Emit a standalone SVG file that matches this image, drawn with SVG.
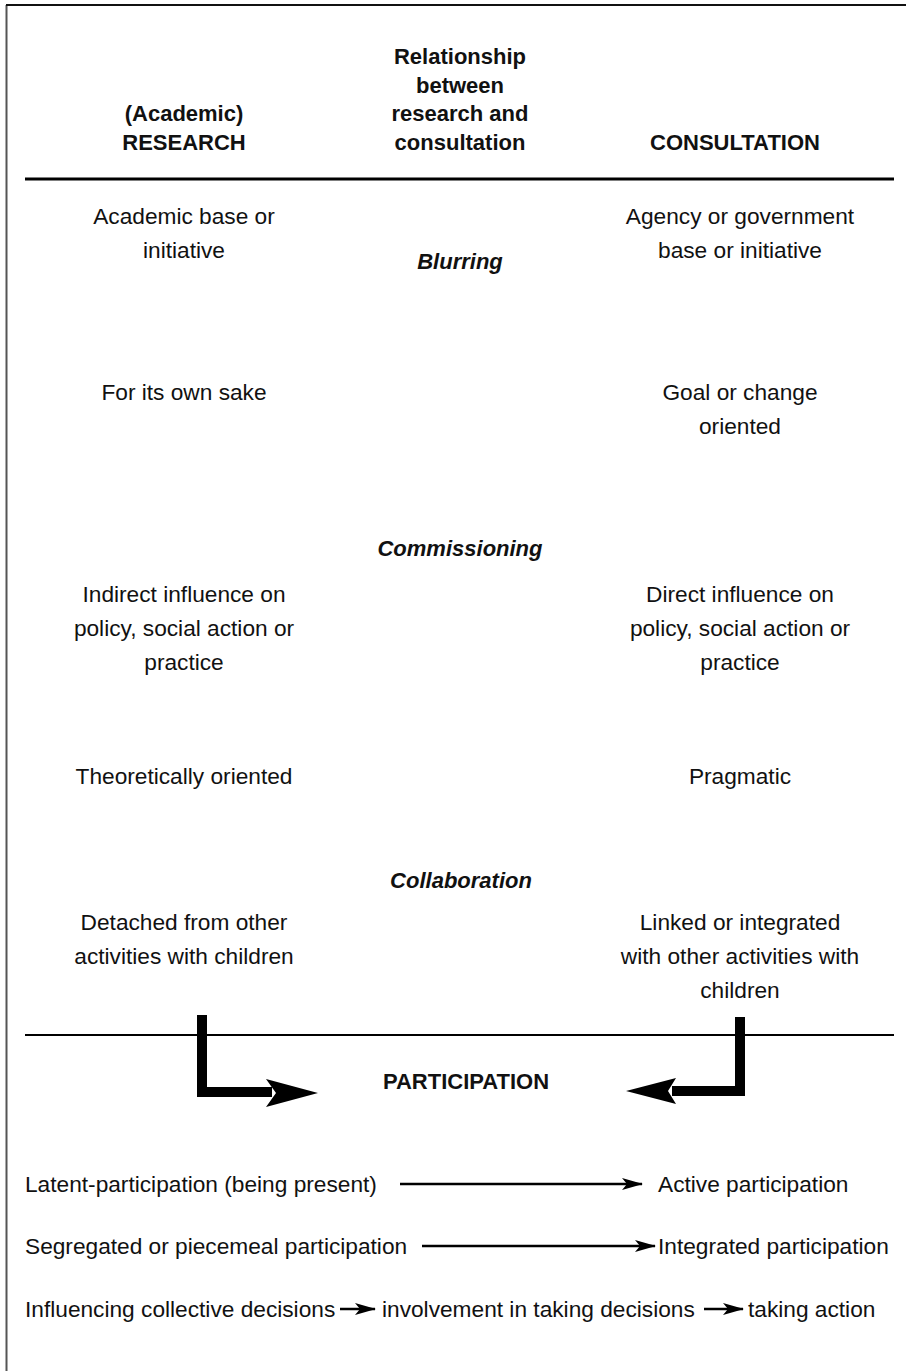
<svg xmlns="http://www.w3.org/2000/svg" width="906" height="1371" viewBox="0 0 906 1371">
<defs>
<style>
text{font-family:"Liberation Sans",Arial,sans-serif;font-size:22.7px;fill:#111;text-anchor:middle}
.b{font-weight:bold;font-size:22px}
.bi{font-weight:bold;font-style:italic;font-size:22px}
.l{text-anchor:start}
.ln{stroke:#000;fill:none}
</style>
<marker id="ah" markerWidth="22" markerHeight="14" refX="20" refY="7" orient="auto" markerUnits="userSpaceOnUse">
<path d="M0,1 L21,7 L0,13 L5,7 Z" fill="#000"/>
</marker>
</defs>
<rect width="906" height="1371" fill="#fff"/>
<g id="frame">
<line x1="6.5" y1="5" x2="6.5" y2="1371" stroke="#555" stroke-width="2"/>
<line x1="6" y1="5" x2="906" y2="5" stroke="#111" stroke-width="2"/>
<line x1="25" y1="179" x2="894" y2="179" stroke="#000" stroke-width="3"/>
<line x1="25" y1="1035" x2="894" y2="1035" stroke="#000" stroke-width="2"/>
</g>
<g id="header">
<text class="b" x="460" y="64">Relationship</text>
<text class="b" x="460" y="93">between</text>
<text class="b" x="460" y="121">research and</text>
<text class="b" x="460" y="150">consultation</text>
<text class="b" x="184" y="121">(Academic)</text>
<text class="b" x="184" y="150">RESEARCH</text>
<text class="b" x="735" y="150">CONSULTATION</text>
</g>
<g id="research">
<text x="184" y="224">Academic base or</text>
<text x="184" y="258">initiative</text>
<text x="184" y="400">For its own sake</text>
<text x="184" y="602">Indirect influence on</text>
<text x="184" y="636">policy, social action or</text>
<text x="184" y="670">practice</text>
<text x="184" y="784">Theoretically oriented</text>
<text x="184" y="930">Detached from other</text>
<text x="184" y="964">activities with children</text>
</g>
<g id="relationship">
<text class="bi" x="460" y="269">Blurring</text>
<text class="bi" x="460" y="556">Commissioning</text>
<text class="bi" x="461" y="888">Collaboration</text>
</g>
<g id="consultation">
<text x="740" y="224">Agency or government</text>
<text x="740" y="258">base or initiative</text>
<text x="740" y="400">Goal or change</text>
<text x="740" y="434">oriented</text>
<text x="740" y="602">Direct influence on</text>
<text x="740" y="636">policy, social action or</text>
<text x="740" y="670">practice</text>
<text x="740" y="784">Pragmatic</text>
<text x="740" y="930">Linked or integrated</text>
<text x="740" y="964">with other activities with</text>
<text x="740" y="998">children</text>
</g>
<g id="participation">
<text class="b" x="466" y="1089">PARTICIPATION</text>
<text class="l" x="25" y="1192">Latent-participation (being present)</text>
<text class="l" x="658" y="1192">Active participation</text>
<text class="l" x="25" y="1254">Segregated or piecemeal participation</text>
<text class="l" x="658" y="1254">Integrated participation</text>
<text class="l" x="25" y="1317">Influencing collective decisions</text>
<text class="l" x="382" y="1317">involvement in taking decisions</text>
<text class="l" x="748" y="1317">taking action</text>
</g>
<g id="connectors">
<polyline class="ln" points="202,1015 202,1092 272,1092" stroke-width="10"/>
<polygon points="266,1079 318,1093 266,1107 276,1093" fill="#000"/>
<polyline class="ln" points="740,1017 740,1091 672,1091" stroke-width="10"/>
<polygon points="676,1078 626,1091 676,1104 668,1091" fill="#000"/>
<line class="ln" x1="400" y1="1184" x2="642" y2="1184" stroke-width="2.5" marker-end="url(#ah)"/>
<line class="ln" x1="422" y1="1246" x2="655" y2="1246" stroke-width="2.5" marker-end="url(#ah)"/>
<line class="ln" x1="340" y1="1309" x2="375" y2="1309" stroke-width="2.5" marker-end="url(#ah)"/>
<line class="ln" x1="704" y1="1309" x2="743" y2="1309" stroke-width="2.5" marker-end="url(#ah)"/>
</g>
</svg>
